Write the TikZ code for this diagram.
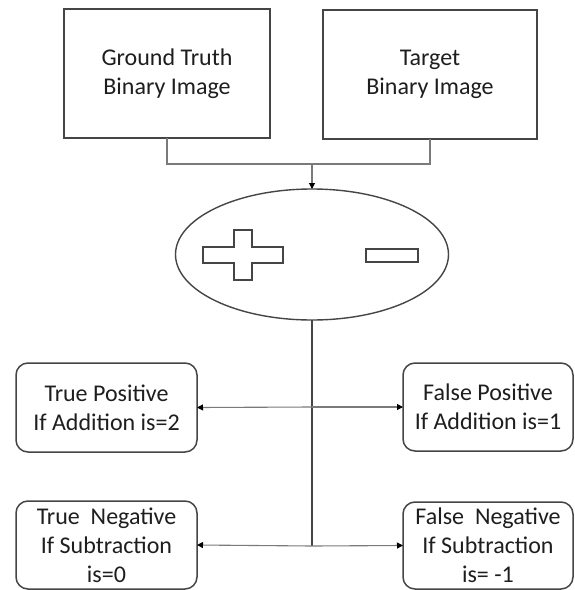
\documentclass[tikz,border=0pt]{standalone}
\usepackage{fontspec}
\setmainfont{Carlito}
\usetikzlibrary{shapes.geometric,arrows.meta}
\definecolor{boxline}{HTML}{454545}
\definecolor{connline}{HTML}{7A7A7A}
\definecolor{txt}{HTML}{1E1E1E}
\begin{document}
\begin{tikzpicture}[x=1pt,y=-1pt,
  every node/.style={inner sep=0pt, outer sep=0pt, text=txt, align=center,
    font=\fontsize{24}{29}\selectfont},
  imgbox/.style={draw=boxline, line width=1.5pt, rectangle},
  resbox/.style={draw=boxline, line width=1.5pt, rectangle, rounded corners=12pt},
  conn/.style={draw=connline, line width=1.1pt},
  arr/.style={conn, -{Triangle[length=6pt,width=6pt,fill=black,color=black]}},
  vline/.style={draw=boxline, line width=1.3pt}]
\useasboundingbox (0,0) rectangle (574,590);
\fill[white] (0,0) rectangle (574,590);

\node[imgbox, minimum width=206pt, minimum height=129pt] (gt) at (167,73.5) {Ground Truth\\Binary Image};
\node[imgbox, minimum width=214pt, minimum height=129pt] (tg) at (430,74.5) {Target\\Binary Image};

\node[ellipse, draw=boxline, line width=1.4pt, minimum width=273pt, minimum height=131pt] (ell) at (312,254.5) {};
\draw[boxline, line width=1.4pt] (234,230) -- (252,230) -- (252,247) -- (283,247) -- (283,263) -- (252,263) -- (252,280) -- (234,280) -- (234,263) -- (203,263) -- (203,247) -- (234,247) -- cycle;
\draw[boxline, line width=1.4pt] (366,249) rectangle (418,262);

\node[resbox, minimum width=181pt, minimum height=89pt] (tp) at (106.5,407.5) {True Positive\\If Addition is=2};
\node[resbox, minimum width=170pt, minimum height=88pt] (fp) at (488,407) {False Positive\\If Addition is=1};
\node[resbox, minimum width=181pt, minimum height=88pt] (tn) at (106.5,545) {True\ \ Negative\\If Subtraction\\is=0};
\node[resbox, minimum width=170pt, minimum height=87pt] (fn) at (488,545.5) {False\ \ Negative\\If Subtraction\\is= -1};

\coordinate (j) at (312,164);
\draw[conn] (gt.south) |- (j) -| (tg.south);
\draw[arr] (j) -- (ell.north);

\coordinate (a) at (312,407);
\coordinate (b) at (312,546);
\draw[vline] (ell.south) -- (b);
\draw[arr] (a) -- (tp.east);
\draw[arr] (a) -- (fp.west);
\draw[arr] (b) -- (tn.east);
\draw[arr] (b) -- (fn.west);
\end{tikzpicture}
\end{document}
